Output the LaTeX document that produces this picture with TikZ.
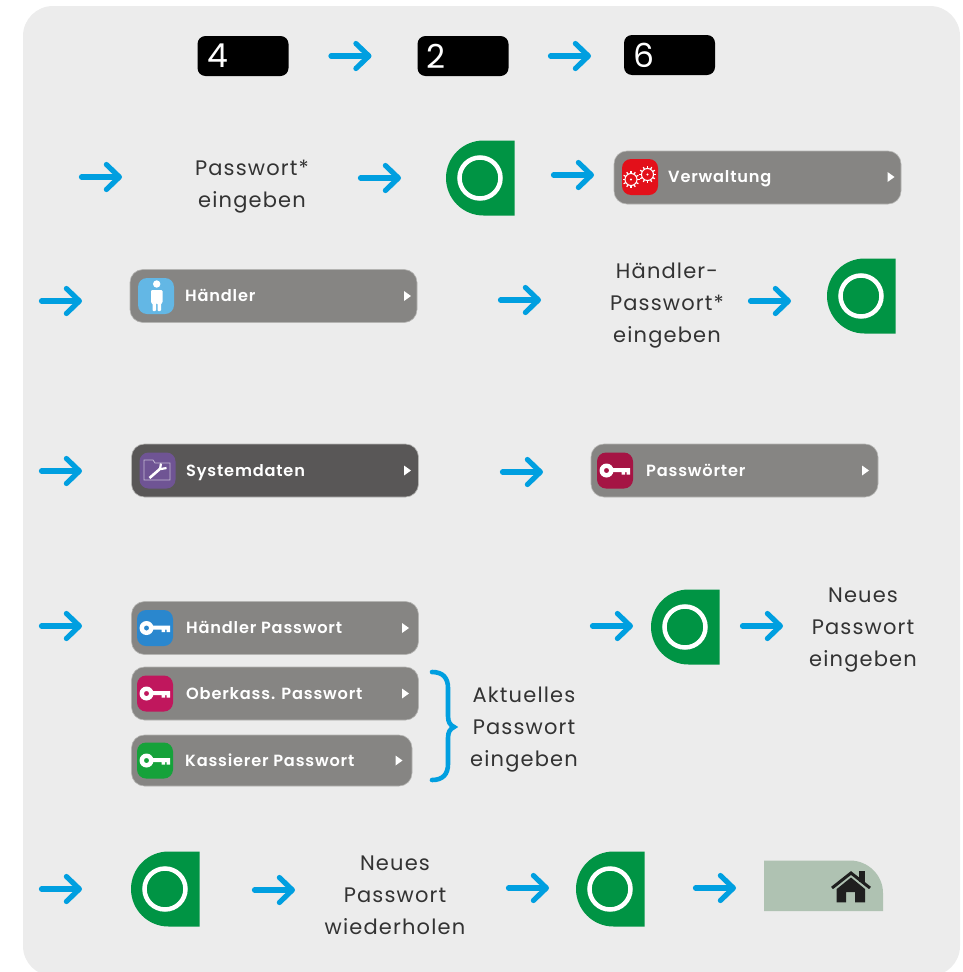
\documentclass[tikz,border=0pt]{standalone}
\usepackage{fontspec}
\usepackage{tikz}
\usetikzlibrary{arrows.meta}
\setmainfont{Poppins}
\newfontfamily\btnfont[LetterSpace=5]{Poppins SemiBold}
\newfontfamily\stepfont[LetterSpace=5.5]{Poppins}

\definecolor{panelgray}{HTML}{ECECEC}
\definecolor{flowblue}{HTML}{009FE0}
\definecolor{okgreen}{HTML}{009444}
\definecolor{menugray}{HTML}{868583}
\definecolor{menudark}{HTML}{595757}
\definecolor{menuedge}{HTML}{B4B4B2}
\definecolor{hometab}{HTML}{AFC2B2}
\definecolor{labeltext}{HTML}{333333}
\definecolor{gearred}{HTML}{E3101A}
\definecolor{personblue}{HTML}{63B7E5}
\definecolor{toolviolet}{HTML}{6F5494}
\definecolor{keycrimson}{HTML}{A51444}
\definecolor{keyblue}{HTML}{2A87CE}
\definecolor{keymagenta}{HTML}{C0175D}
\definecolor{keygreen}{HTML}{15A23A}

\tikzset{
    flowarrow/.style={line width=5.2pt, flowblue, line cap=round, -{Straight Barb[length=13pt,width=25pt,round]}},
    keycap/.style={fill=black, rounded corners=8pt, minimum width=91pt, minimum height=40pt, inner sep=0pt},
    keydigit/.style={white, font=\fontsize{33}{33}\selectfont, inner sep=0pt},
    steplabel/.style={labeltext, align=center, inner sep=0pt, yshift=-3.5pt, font=\stepfont\fontsize{21}{32}\selectfont},
    menubox/.style={fill=menugray, draw=menuedge, line width=0.6pt, rounded corners=13pt, minimum width=287pt, minimum height=53pt, inner sep=0pt},
    menutext/.style={white, anchor=base west, inner sep=0pt, yshift=-5.8pt, font=\btnfont\fontsize{16.2}{18}\selectfont},
    iconbox/.style={rounded corners=9pt, minimum width=36pt, minimum height=36pt, inner sep=0pt},
    menutip/.pic={\fill[white] (-3.5,-5) -- (3.5,0) -- (-3.5,5) -- cycle;},
    okbutton/.pic={
        \fill[okgreen] (3.5,-37.5) -- (34.5,-37.5) -- (34.5,37.5) -- (3.5,37.5) arc (270:90:37.5pt) -- cycle;
        \draw[white, line width=4.5pt] (0,0) circle (20.5pt);
    },
    keyicon/.pic={
        \fill[white, even odd rule] (-8.5,0) circle (7pt) (-8.5,0) circle (2.6pt);
        \fill[white] (-4,-2.5) -- (15,-2.5) -- (15,4.2) -- (11.5,4.2) -- (11.5,1.6) -- (10,1.6) -- (10,4.2) -- (6.5,4.2) -- (6.5,1.6) -- (-4,1.6) -- cycle;
    },
    gearwheel/.pic={
        \draw[white, line width=1pt] (0,0) circle (6pt);
        \fill[white] (0,0) circle (1.2pt);
        \foreach \toothangle in {0,30,...,330}
            \draw[white, line width=1.2pt] (\toothangle:6pt) -- (\toothangle:8.5pt);
    }
}

\begin{document}
\begin{tikzpicture}[x=1pt, y=-1pt]

    \clip (0,0) rectangle (962,972);

    % Panel
    \fill[panelgray, rounded corners=30pt] (23,6) rectangle (960,976);

    % Key sequence
    \node[keycap] (keyfour) at (243,56) {};
    \node[keycap] (keytwo) at (463,56) {};
    \node[keycap] (keysix) at (669.5,55) {};
    \node[keydigit] (digitfour) at (218,56) {4};
    \node[keydigit] (digittwo) at (436,56) {2};
    \node[keydigit] (digitsix) at (644,55) {6};
    \coordinate (a1s) at (331,56); \coordinate (a1e) at (371.5,56);
    \coordinate (a2s) at (550.5,56); \coordinate (a2e) at (591,56);
    \draw[flowarrow] (a1s) -- (a1e);
    \draw[flowarrow] (a2s) -- (a2e);

    % Row with Verwaltung
    \coordinate (a3s) at (81.5,177); \coordinate (a3e) at (122,177);
    \coordinate (a4s) at (360.5,178); \coordinate (a4e) at (401,178);
    \coordinate (a5s) at (553.5,175); \coordinate (a5e) at (594,175);
    \draw[flowarrow] (a3s) -- (a3e);
    \draw[flowarrow] (a4s) -- (a4e);
    \draw[flowarrow] (a5s) -- (a5e);
    \node[steplabel] (enterpass) at (252,183) {Passwort*\\eingeben};
    \pic at (480,178) {okbutton};
    \node[menubox] (verwaltung) at (757.5,177.5) {};
    \node[iconbox, fill=gearred] (verwaltungicon) at (640,177) {};
    \pic at (631,179.5) {gearwheel};
    \pic at (647.5,174.5) {gearwheel};
    \node[menutext] (verwaltungtext) at (668,177) {Verwaltung};
    \pic at (891,177) {menutip};

    % Row with Haendler
    \coordinate (a6s) at (41.5,301); \coordinate (a6e) at (82,301);
    \coordinate (a7s) at (500.5,300); \coordinate (a7e) at (541,300);
    \coordinate (a8s) at (750.5,301); \coordinate (a8e) at (791,301);
    \draw[flowarrow] (a6s) -- (a6e);
    \draw[flowarrow] (a7s) -- (a7e);
    \draw[flowarrow] (a8s) -- (a8e);
    \node[menubox] (haendler) at (273.5,296) {};
    \node[iconbox, fill=personblue] (haendlericon) at (156,296) {};
    \fill[white] (156.7,284) circle (3.7pt);
    \fill[white, rounded corners=1pt] (151,290) -- (162.5,290) -- (162.5,303) -- (161,303) -- (161,311) -- (157.5,311) -- (157.5,303) -- (156,303) -- (156,311) -- (152.5,311) -- (152.5,303) -- (151,303) -- cycle;
    \node[menutext] (haendlertext) at (185,296) {Händler};
    \pic at (407.5,296) {menutip};
    \node[steplabel] (enterdealer) at (667,302) {Händler-\\Passwort*\\eingeben};
    \pic at (861,296) {okbutton};

    % Row with Systemdaten
    \coordinate (a9s) at (41.5,471); \coordinate (a9e) at (82,471);
    \coordinate (a10s) at (502.5,472); \coordinate (a10e) at (543,472);
    \draw[flowarrow] (a9s) -- (a9e);
    \draw[flowarrow] (a10s) -- (a10e);
    \node[menubox, fill=menudark] (systemdaten) at (275,470.5) {};
    \node[iconbox, fill=toolviolet] (systemicon) at (157.5,470.5) {};
    \draw[white!60!toolviolet, line width=0.7pt] (144,480) -- (144,460) -- (153,460) -- (155,463) -- (170,463) -- (170,480) -- cycle;
    \draw[white, line width=2.6pt] (149.5,478) -- (161,468);
    \draw[white, line width=2.2pt] (160,469) -- (161,463.5) (161,469) -- (166.5,468);
    \node[menutext] (systemtext) at (186,470.5) {Systemdaten};
    \pic at (407.5,470.5) {menutip};
    \node[menubox] (passwoerter) at (734.5,470.5) {};
    \node[iconbox, fill=keycrimson] (passwoerticon) at (615,470.5) {};
    \pic at (615,470.5) {keyicon};
    \node[menutext] (passwoertertext) at (646,470.5) {Passwörter};
    \pic at (865.5,470.5) {menutip};

    % Password menu
    \coordinate (a11s) at (41.5,626); \coordinate (a11e) at (82,626);
    \coordinate (a12s) at (592.5,626); \coordinate (a12e) at (633,626);
    \coordinate (a13s) at (742.5,626); \coordinate (a13e) at (783,626);
    \draw[flowarrow] (a11s) -- (a11e);
    \draw[flowarrow] (a12s) -- (a12e);
    \draw[flowarrow] (a13s) -- (a13e);
    \node[menubox] (dealerpass) at (275,628) {};
    \node[iconbox, fill=keyblue] (dealerpassicon) at (155,628) {};
    \pic at (155,628) {keyicon};
    \node[menutext] (dealerpasstext) at (186,628) {Händler Passwort};
    \pic at (405.5,628) {menutip};
    \node[menubox] (cashierhead) at (275,693.5) {};
    \node[iconbox, fill=keymagenta] (cashierheadicon) at (155,693.5) {};
    \pic at (155,693.5) {keyicon};
    \node[menutext] (cashierheadtext) at (186,693.5) {Oberkass. Passwort};
    \pic at (405.5,693.5) {menutip};
    \node[menubox, minimum width=280.5pt, minimum height=51pt] (cashier) at (271.75,760.5) {};
    \node[iconbox, fill=keygreen] (cashiericon) at (155,760.5) {};
    \pic at (155,760.5) {keyicon};
    \node[menutext] (cashiertext) at (185,760.5) {Kassierer Passwort};
    \pic at (399,760.5) {menutip};

    % Curly bracket
    \draw[flowblue, line width=4.6pt, line cap=round] (432,672) .. controls (443,672) and (448,678) .. (448,688) -- (448,716) .. controls (448,722) and (450,725) .. (454,727) .. controls (450,729) and (448,732) .. (448,738) -- (448,764) .. controls (448,774) and (443,780) .. (432,780);
    \node[steplabel] (enterold) at (524,726) {Aktuelles\\Passwort\\eingeben};
    \pic at (685,627) {okbutton};
    \node[steplabel] (enternew) at (863,626) {Neues\\Passwort\\eingeben};

    % Last row
    \coordinate (a14s) at (41.5,889); \coordinate (a14e) at (82,889);
    \coordinate (a15s) at (254.5,890); \coordinate (a15e) at (295,890);
    \coordinate (a16s) at (508.5,888); \coordinate (a16e) at (549,888);
    \coordinate (a17s) at (695.5,888); \coordinate (a17e) at (736,888);
    \draw[flowarrow] (a14s) -- (a14e);
    \draw[flowarrow] (a15s) -- (a15e);
    \draw[flowarrow] (a16s) -- (a16e);
    \draw[flowarrow] (a17s) -- (a17e);
    \pic at (165,889) {okbutton};
    \node[steplabel] (repeatnew) at (395,891.5) {Neues\\Passwort\\wiederholen};
    \pic at (610,889) {okbutton};

    % Home tab
    \fill[hometab] (764,860.5) -- (850,860.5) .. controls (868,860.5) and (883,875) .. (883,893) -- (883,911) -- (764,911) -- cycle;
    \fill[black!88] (859,871) rectangle (865,882);
    \draw[black!88, line width=3pt] (832,888) -- (851,873) -- (870,888);
    \fill[black!88] (851,877.5) -- (865,889) -- (865,902.3) -- (855,902.3) -- (855,892) -- (846,892) -- (846,902.3) -- (836.7,902.3) -- (836.7,889) -- cycle;

\end{tikzpicture}
\end{document}
